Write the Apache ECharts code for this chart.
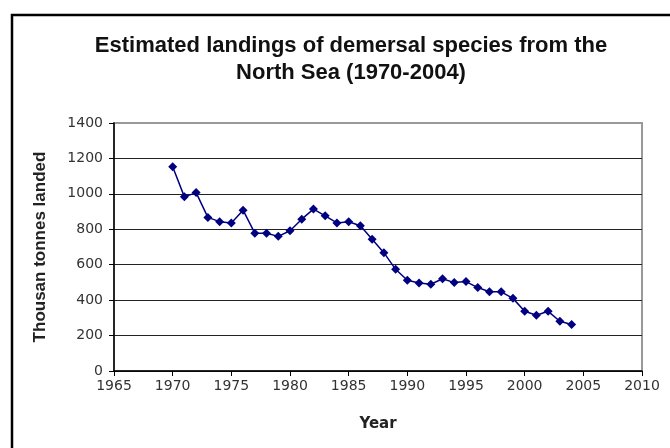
<!DOCTYPE html>
<html>
<head>
<meta charset="utf-8">
<script src="https://cdn.jsdelivr.net/npm/echarts@6/dist/echarts.min.js"></script>
<style>html,body{margin:0;padding:0;background:#fff;}#c{width:670px;height:448px;}</style>
</head>
<body>
<div id="c"></div>
<script>
const years = [1970,1971,1972,1973,1974,1975,1976,1977,1978,1979,1980,1981,1982,1983,1984,1985,1986,1987,1988,1989,1990,1991,1992,1993,1994,1995,1996,1997,1998,1999,2000,2001,2002,2003,2004];
const landings = [1153,983,1007,867,843,836,908,778,778,760,792,857,914,876,836,843,820,744,668,574,512,497,490,521,499,505,471,447,447,410,337,315,337,281,262];
const titleText = 'Estimated landings of demersal species from the\nNorth Sea (1970-2004)';
const xName = 'Year';
const yName = 'Thousan tonnes landed';

const chart = echarts.init(document.getElementById('c'), null, {renderer: 'canvas'});
const font = 'Liberation Sans, Arial, sans-serif';
const tickFont = 'DejaVu Sans, Verdana, sans-serif';
chart.setOption({
  animation: false,
  backgroundColor: '#fff',
  title: {
    text: titleText,
    left: 346, top: 27, textAlign: 'center',
    textStyle: {fontFamily: font, fontSize: 22, fontWeight: 'bold', color: '#111', lineHeight: 27}
  },
  graphic: [{
    type: 'rect', shape: {x: 12, y: 15, width: 720, height: 500},
    style: {fill: 'none', stroke: '#000', lineWidth: 2.5}, silent: true
  }],
  grid: {left: 114, right: 28, top: 123, bottom: 77, show: true, borderColor: '#999', borderWidth: 2, backgroundColor: 'transparent'},
  xAxis: {
    type: 'value', min: 1965, max: 2010, interval: 5,
    name: xName, nameLocation: 'middle', nameGap: 46,
    nameTextStyle: {fontFamily: tickFont, fontSize: 15, fontWeight: 'bold', color: '#222'},
    axisLine: {lineStyle: {color: '#000', width: 1.5}},
    axisTick: {show: true, length: 5, lineStyle: {color: '#000'}},
    axisLabel: {fontFamily: tickFont, fontSize: 14, color: '#333', margin: 8, formatter: v => String(v)},
    splitLine: {show: false}
  },
  yAxis: {
    type: 'value', min: 0, max: 1400, interval: 200,
    name: yName, nameLocation: 'middle', nameGap: 65,
    nameTextStyle: {fontFamily: font, fontSize: 17, fontWeight: 'bold', color: '#222'},
    axisLine: {show: true, lineStyle: {color: '#000', width: 1.5}},
    axisTick: {show: true, length: 5, lineStyle: {color: '#000'}},
    axisLabel: {fontFamily: tickFont, fontSize: 14, color: '#333', margin: 11, formatter: v => String(v)},
    splitLine: {show: true, showMaxLine: false, lineStyle: {color: '#222', width: 1.2}}
  },
  series: [{
    type: 'line',
    data: years.map((y, i) => [y, landings[i]]),
    symbol: 'diamond', symbolSize: 9,
    lineStyle: {color: '#000080', width: 1.5},
    itemStyle: {color: '#000080'}
  }]
});
</script>
</body>
</html>
